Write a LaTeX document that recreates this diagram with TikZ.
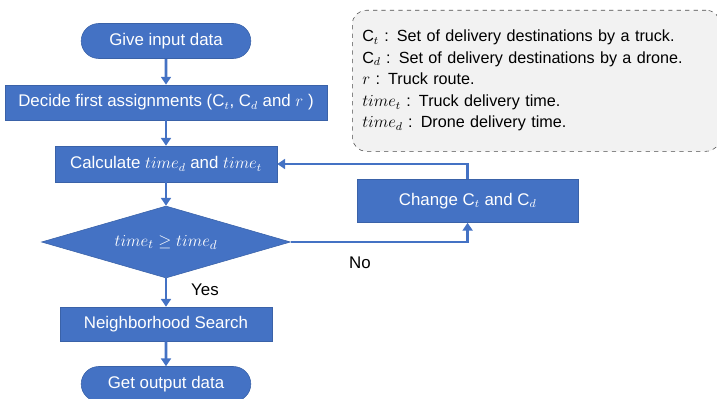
\documentclass[tikz,border=0pt]{standalone}
\usepackage{amsmath,amssymb}
\usepackage{fontspec}
\setmainfont{Liberation Sans}
\usepackage{xcolor}
\usetikzlibrary{arrows.meta,shapes.geometric,shapes.misc}

\definecolor{flowblue}{HTML}{4472C4}
\definecolor{flowedge}{HTML}{3A62A8}
\definecolor{notegray}{HTML}{F2F2F2}

\begin{document}
\begin{tikzpicture}[
  proc/.style={draw=flowedge, fill=flowblue, text=white, inner sep=2pt,
               minimum height=0.875cm, font=\fontsize{12}{14}\selectfont},
  term/.style={rounded rectangle, draw=flowedge, fill=flowblue, text=white,
               minimum width=4.475cm, minimum height=0.875cm, font=\fontsize{12}{14}\selectfont},
  dec/.style={diamond, aspect=3.5, draw=flowedge, fill=flowblue, text=white, inner sep=0pt,
              minimum width=6.225cm, minimum height=1.8cm, font=\fontsize{12.5}{14}\selectfont},
  note/.style={draw=black!70, dashed, rounded corners=10pt, fill=notegray, align=left,
               text width=8.7cm, minimum height=3.525cm, inner xsep=0.25cm,
               font=\fontsize{11.5}{15.3}\selectfont},
  flow/.style={->, draw=flowblue, line width=1.8pt},
  lbl/.style={font=\fontsize{12}{14}\selectfont},
  >={Triangle[length=5.5pt,width=7pt]}
]
  \useasboundingbox (0,0) rectangle (17.925,9.95);
  % Main flow
  \node[term] (start)  at (4.15, 8.925) {Give input data};
  \node[proc, minimum width=8.05cm]  (decide) at (4.15, 7.39)
       {Decide first assignments ($\mathrm{C}_t$, $\mathrm{C}_d$ and $r$ )};
  \node[proc, minimum width=5.55cm, minimum height=0.9cm] (calc) at (4.15, 5.85)
       {Calculate $time_d$ and $time_t$};
  \node[dec]  (check)  at (4.15, 3.9) {$time_t \geq time_d$};
  \node[proc, minimum width=5.3cm, minimum height=0.85cm] (search) at (4.15, 1.85)
       {Neighborhood Search};
  \node[term] (finish) at (4.15, 0.35) {Get output data};
  % Loop back
  \node[proc, minimum width=5.525cm, minimum height=1.075cm] (change) at (11.69, 4.925)
       {Change $\mathrm{C}_t$ and $\mathrm{C}_d$};
  % Legend
  \node[note, anchor=north west] (legend) at (8.8, 9.7) {%
    $\mathrm{C}_t$ : Set of delivery destinations by a truck.\\
    $\mathrm{C}_d$ : Set of delivery destinations by a drone.\\
    $r$ : Truck route.\\
    $time_t$ : Truck delivery time.\\
    $time_d$ : Drone delivery time.};
  % Connections
  \draw[flow] (start)  -- (decide);
  \draw[flow] (decide) -- (calc);
  \draw[flow] (calc)   -- (check);
  \draw[flow] (check)  -- (search);
  \draw[flow] (search) -- (finish);
  \draw[flow] (check.east)   -| (change.south);
  \draw[flow] (change.north) |- (calc.east);
  % Branch labels
  \node[lbl] (yes) at (5.125, 2.7)  {Yes};
  \node[lbl] (no)  at (9.0, 3.375)  {No};
\end{tikzpicture}
\end{document}
